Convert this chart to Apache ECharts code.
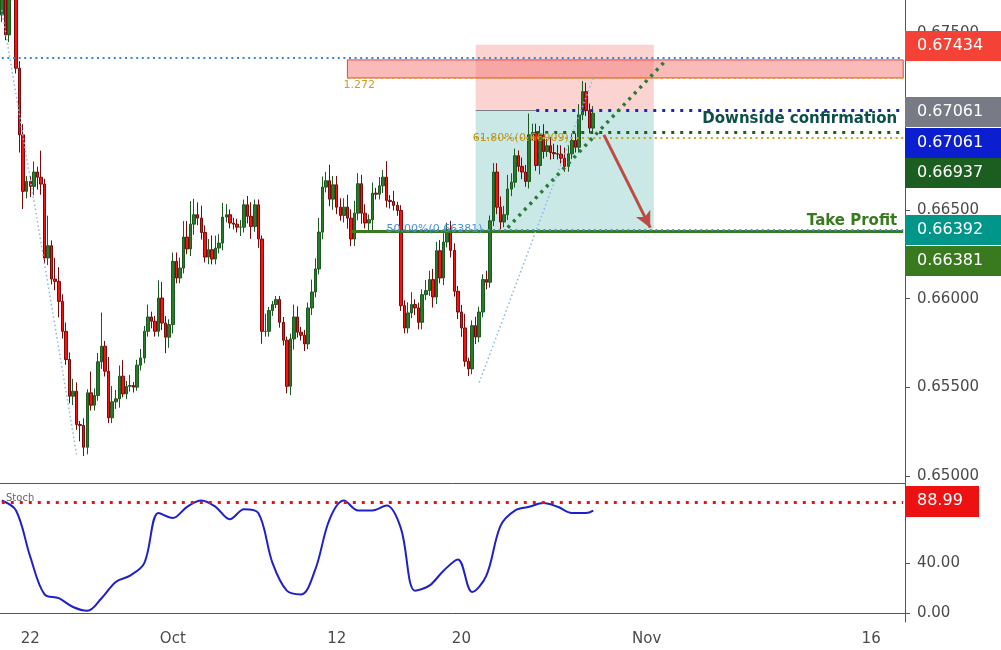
<!DOCTYPE html>
<html><head><meta charset="utf-8">
<script src="https://cdn.jsdelivr.net/npm/echarts@6/dist/echarts.min.js"></script>
<style>html,body{margin:0;padding:0;background:#fff}#c{width:1001px;height:650px}</style>
</head><body><div id="c"></div>
<script>
const firstOpen = 0.67601;
const closes = [0.67724,0.67489,0.67742,0.67705,0.67301,0.66925,0.66606,0.66662,0.66634,0.66715,
0.66686,0.66647,0.66230,0.66299,0.66111,0.66098,0.65985,0.65816,0.65657,0.65450,
0.65478,0.65290,0.65285,0.65162,0.65469,0.65399,0.65454,0.65644,0.65732,0.65591,
0.65328,0.65418,0.65435,0.65563,0.65463,0.65506,0.65510,0.65501,0.65625,0.65666,
0.65816,0.65897,0.65873,0.65816,0.66004,0.65863,0.65783,0.65854,0.66211,0.66117,
0.66173,0.66348,0.66281,0.66421,0.66474,0.66455,0.66374,0.66235,0.66277,0.66224,
0.66286,0.66314,0.66461,0.66474,0.66427,0.66421,0.66404,0.66404,0.66530,0.66465,
0.66408,0.66530,0.66337,0.65816,0.65816,0.65933,0.65967,0.65995,0.65867,0.65766,
0.65506,0.65773,0.65897,0.65811,0.65794,0.65745,0.65948,0.66038,0.66168,0.66376,
0.66630,0.66666,0.66562,0.66643,0.66517,0.66470,0.66517,0.66455,0.66337,0.66483,
0.66649,0.66483,0.66427,0.66446,0.66596,0.66590,0.66637,0.66686,0.66555,0.66549,
0.66527,0.66498,0.65961,0.65835,0.65920,0.65967,0.65948,0.65867,0.66023,0.66046,
0.66108,0.66010,0.66271,0.66117,0.66320,0.66389,0.66273,0.66042,0.65925,0.65835,
0.65647,0.65604,0.65848,0.65784,0.65925,0.66108,0.66093,0.66440,0.66715,0.66517,
0.66433,0.66474,0.66619,0.66658,0.66807,0.66747,0.66715,0.66662,0.66925,0.66938,
0.66752,0.66925,0.66831,0.66863,0.66825,0.66818,0.66816,0.66793,0.66747,0.66818,
0.66893,0.66855,0.67038,0.67169,0.67062,0.66963,0.67047];
// wick lengths in 0.0001 units
const wickUp = [8,4,3,2,3,4,6,3,3,6, 3,15,3,17,3,12,8,4,5,4, 7,5,2,4,2,12,4,5,19,3,
8,9,5,6,9,3,6,2,3,5, 3,7,3,3,10,9,4,3,5,5, 6,9,9,13,9,7,7,4,6,8, 7,5,8,6,3,3,3,4,3,5,
8,3,3,2,10,2,2,2,2,3, 2,3,7,6,3,3,3,7,6,8, 6,5,9,5,5,5,5,7,5,7, 6,5,5,3,6,3,5,4,9,3,
6,2,3,3,6,7,3,3,3,6, 5,6,5,6,5,4,5,4,3,4, 8,2,3,5,3,3,5,3,5,5, 6,5,8,5,4,3,5,4,12,5,
5,5,6,4,5,5,5,5,6,5, 4,4,6,6,5,4,4];
const wickDn = [4,3,4,2,3,10,10,4,6,5, 7,6,3,4,3,5,9,4,3,4, 5,3,9,5,4,3,3,3,4,3,
3,3,4,5,2,3,3,3,2,3, 3,3,4,3,3,4,9,6,5,3, 3,3,3,4,6,4,4,3,4,3, 3,3,4,3,3,3,3,5,3,4,
7,3,5,7,3,3,3,2,3,3, 4,5,6,3,3,4,3,4,3,3, 4,3,4,6,4,3,4,6,4,4, 4,6,3,5,6,3,3,4,4,4,
3,3,3,3,3,3,4,4,4,3, 3,6,4,3,4,3,4,3,4,5, 3,4,3,4,3,3,4,3,3,4, 4,3,3,4,3,3,4,3,4,3,
3,5,4,3,4,3,3,3,3,3, 3,3,3,3,3,3,3];
// stochastic readings every 4th bar
const stochIdx = [0,4,8,12,16,20,24,28,32,36,40,44,48,52,56,60,64,68,72,76,80,84,88,92,96,100,104,108,112,116,120,124,128,132,136,140,144,148,152,156,160,164,166];
const stochVal = [90,82,45,15,12,5,2,12,25,30,40,80,76,85,90,85,75,83,80,40,18,15,35,75,90,82,82,86,68,18,22,34,43,17,30,70,82,85,88,85,80,80,82];
const totalSlots = 254;
const tickLabels = {8:'22',48:'Oct',94:'12',129:'20',181:'Nov',244:'16'};
const priceTicks = [0.65,0.655,0.66,0.665,0.67,0.675];
const stochTicks = [0,40,80];
const levels = {top:0.67434, blueDot:0.6736, zoneHi:0.67348, fib1272:0.67246, confirm:0.67061, green:0.66937, fib618:0.66909, tpBlue:0.66392, tp:0.66381, stochLvl:88.99};

const cats = [], ohlc = [], stoch = [];
for (let i=0;i<totalSlots;i++){ cats.push(tickLabels[i]||''); stoch.push(null); }
let o = firstOpen;
closes.forEach((c,i)=>{ ohlc.push([o,c,Math.min(o,c)-wickDn[i]*1e-4,Math.max(o,c)+wickUp[i]*1e-4]); o=c; });
stochIdx.forEach((k,j)=>{ stoch[k]=stochVal[j]; });

const F = '"DejaVu Sans", Verdana, sans-serif';
const chart = echarts.init(document.getElementById('c'));
const dot = (w)=>[w,w*1.8];
chart.setOption({
  animation:false,
  grid:[{left:0,right:96,top:0,height:483},{left:0,right:96,top:483,bottom:28}],
  xAxis:[
    {type:'category',gridIndex:0,data:cats,axisLabel:{show:false},axisTick:{show:false},axisLine:{show:true,lineStyle:{color:'#555'}}},
    {type:'category',gridIndex:1,data:cats,axisLine:{lineStyle:{color:'#555'}},
     axisTick:{interval:(i,v)=>v!=='',length:5,lineStyle:{color:'#555'}},
     axisLabel:{interval:(i,v)=>v!=='',color:'#4a4a4a',fontSize:15,fontFamily:F,margin:10}}
  ],
  yAxis:[
    {type:'value',gridIndex:0,position:'right',min:0.6496,max:0.67686,splitLine:{show:false},
     axisLine:{show:true,lineStyle:{color:'#555'}},axisTick:{show:true,length:5,customValues:priceTicks},
     axisLabel:{customValues:priceTicks,formatter:v=>v.toFixed(5),color:'#4a4a4a',fontSize:15,fontFamily:F,margin:12}},
    {type:'value',gridIndex:1,position:'right',min:-7,max:104,splitLine:{show:false},
     axisLine:{show:true,lineStyle:{color:'#555'}},axisTick:{show:true,length:5,customValues:stochTicks},
     axisLabel:{customValues:stochTicks,formatter:v=>v.toFixed(2),color:'#4a4a4a',fontSize:15,fontFamily:F,margin:12}}
  ],
  series:[
    {type:'candlestick',xAxisIndex:0,yAxisIndex:0,data:ohlc,barWidth:3,clip:true,
     itemStyle:{color:'#2a7a2e',color0:'#ff1010',borderColor:'#1d5a22',borderColor0:'#7a0a0a',borderWidth:1},
     markArea:{silent:true,data:[
       [{coord:[133,levels.top],itemStyle:{color:'rgba(248,170,165,0.5)'}},{coord:[183,levels.confirm]}],
       [{coord:[133,levels.confirm],itemStyle:{color:'rgba(150,210,205,0.5)'}},{coord:[183,levels.tp]}],
       [{coord:[97,levels.zoneHi],itemStyle:{color:'rgba(246,130,125,0.55)',borderColor:'#ef4040',borderWidth:1}},{coord:[253,levels.fib1272]}]
     ]}},
    {type:'line',xAxisIndex:0,yAxisIndex:0,data:[],symbol:'none',
     markLine:{silent:true,symbol:'none',data:[
       [{coord:[0,levels.blueDot],lineStyle:{color:'#3a86d0',type:dot(2),width:2}},{coord:[253,levels.blueDot]}],
       [{coord:[97,levels.fib1272],lineStyle:{color:'#d4a017',type:dot(2),width:2},
         label:{show:true,position:'insideStartBottom',formatter:'1.272',color:'#c9a227',fontSize:11,fontFamily:F,distance:[-4,2]}},{coord:[253,levels.fib1272]}],
       [{coord:[133,levels.confirm],lineStyle:{color:'#7a7f8a',type:'solid',width:1}},{coord:[150,levels.confirm]}],
       [{coord:[150,levels.confirm],lineStyle:{color:'#1a2bb0',type:[3,6],width:3},
         label:{show:true,position:'insideEndBottom',formatter:'Downside confirmation',color:'#0d4f4a',fontWeight:'bold',fontSize:15,fontFamily:F,distance:[6,1]}},{coord:[253,levels.confirm]}],
       [{coord:[150,levels.green],lineStyle:{color:'#1b5e20',type:[3,6],width:3}},{coord:[253,levels.green]}],
       [{coord:[133,levels.fib618],lineStyle:{color:'#c9a227',type:dot(2),width:2},
         label:{show:true,position:'insideStart',formatter:'61.80%(0.66909)',color:'#b8971f',fontSize:11,fontFamily:F,distance:[-3,0]}},{coord:[253,levels.fib618]}],
       [{coord:[98,levels.tp],lineStyle:{color:'#3a7a1e',type:'solid',width:3},
         label:{show:true,position:'insideEndTop',formatter:'Take Profit',color:'#3a7a1e',fontWeight:'bold',fontSize:15,fontFamily:F,distance:[6,3]}},{coord:[253,levels.tp]}],
       [{coord:[108,levels.tpBlue],lineStyle:{color:'#4a90d9',type:dot(2),width:2},
         label:{show:true,position:'insideStart',formatter:'50.00%(0.66381)',color:'#4a90d9',fontSize:11,fontFamily:F,distance:[0,0]}},{coord:[253,levels.tpBlue]}],
       [{coord:[0,0.6763],lineStyle:{color:'#8ab8e6',type:dot(1.5),width:1.5}},{coord:[21,0.65121]}],
       [{coord:[134,0.65527],lineStyle:{color:'#8ab8e6',type:dot(1.5),width:1.5}},{coord:[166,0.67246]}],
       [{coord:[142,0.66401],lineStyle:{color:'#2a7a3a',type:[3,5],width:3.5}},{coord:[186,0.67337]}]
     ]}},
    {type:'line',xAxisIndex:0,yAxisIndex:0,data:[],symbol:'none',
     markLine:{silent:true,symbol:['none','arrow'],symbolSize:[12,16],data:[
       [{coord:[169,0.66925],lineStyle:{color:'#bd4a44',type:'solid',width:3}},{coord:[182,0.66401]}]
     ]}},
    {type:'line',xAxisIndex:1,yAxisIndex:1,data:stoch,connectNulls:true,smooth:0.35,symbol:'none',
     lineStyle:{color:'#1f20c8',width:2},
     markLine:{silent:true,symbol:'none',label:{show:false},lineStyle:{color:'#ee1111',type:[3,6],width:3},
       data:[[{coord:[0,levels.stochLvl]},{coord:[253,levels.stochLvl]}]]}}
  ],
  graphic:[
    {type:'text',left:6,top:493,z:100,style:{text:'Stoch',fill:'#666',fontSize:10,fontFamily:F}},
    ...[
      [31,'#f44336','0.67434'],[97,'#787b86','0.67061'],[128,'#0b1fd1','0.67061'],
      [158,'#1b5e20','0.66937'],[215,'#00968a','0.66392'],[246,'#3a7a1e','0.66381']
    ].map(([y,c,t])=>({type:'group',left:905,top:y,z:100,children:[
      {type:'rect',z:100,shape:{x:0,y:0,width:96,height:30},style:{fill:c}},
      {type:'text',z:101,x:12,y:7,style:{text:t,fill:'#fff',fontSize:16,fontFamily:F}}]})),
    {type:'group',left:905,top:486,z:100,children:[
      {type:'rect',z:100,shape:{x:0,y:0,width:74,height:31},style:{fill:'#ee1111'}},
      {type:'text',z:101,x:12,y:7,style:{text:levels.stochLvl.toFixed(2),fill:'#fff',fontSize:16,fontFamily:F}}]}
  ]
});
</script></body></html>
